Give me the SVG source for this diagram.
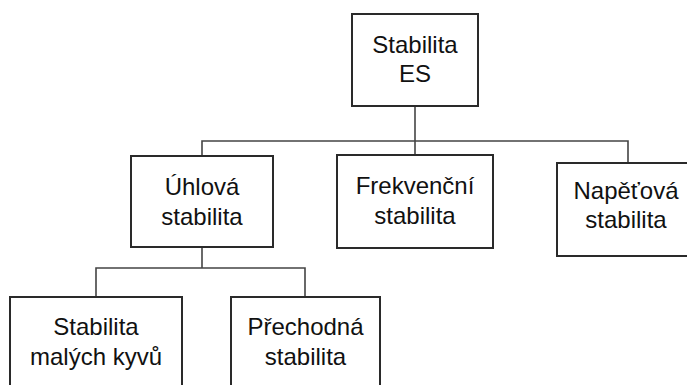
<svg xmlns="http://www.w3.org/2000/svg" width="687" height="385" viewBox="0 0 687 385">
<style>
.box{fill:#fff;stroke:#2a2a2a;stroke-width:2}
.con{fill:none;stroke:#444;stroke-width:1.6}
text{font-family:"Liberation Sans",Arial,sans-serif;font-size:24px;fill:#111;text-anchor:middle}
</style>
<rect width="687" height="385" fill="#fff"/>
<g id="connectors">
<path class="con" d="M415 106 V155"/>
<path class="con" d="M202 156 V141 H628 V163"/>
<path class="con" d="M202 247 V268"/>
<path class="con" d="M96 297 V268 H305 V297"/>
</g>
<g id="n-es">
<rect class="box" x="352" y="14" width="126" height="92"/>
<text x="415" y="53">Stabilita</text>
<text x="415" y="82">ES</text>
</g>
<g id="n-uhlova">
<rect class="box" x="131" y="156" width="142" height="91"/>
<text x="202" y="195">Úhlová</text>
<text x="202" y="225">stabilita</text>
</g>
<g id="n-frekvencni">
<rect class="box" x="337" y="155" width="156" height="93"/>
<text x="415" y="194">Frekvenční</text>
<text x="415" y="224">stabilita</text>
</g>
<g id="n-napetova">
<rect class="box" x="557" y="163" width="140" height="93"/>
<text x="626" y="199">Napěťová</text>
<text x="626" y="228">stabilita</text>
</g>
<g id="n-male">
<rect class="box" x="10" y="297" width="172" height="100"/>
<text x="96" y="335">Stabilita</text>
<text x="96" y="365">malých kyvů</text>
</g>
<g id="n-prechodna">
<rect class="box" x="231" y="297" width="149" height="100"/>
<text x="305.5" y="335">Přechodná</text>
<text x="305.5" y="365">stabilita</text>
</g>
</svg>
